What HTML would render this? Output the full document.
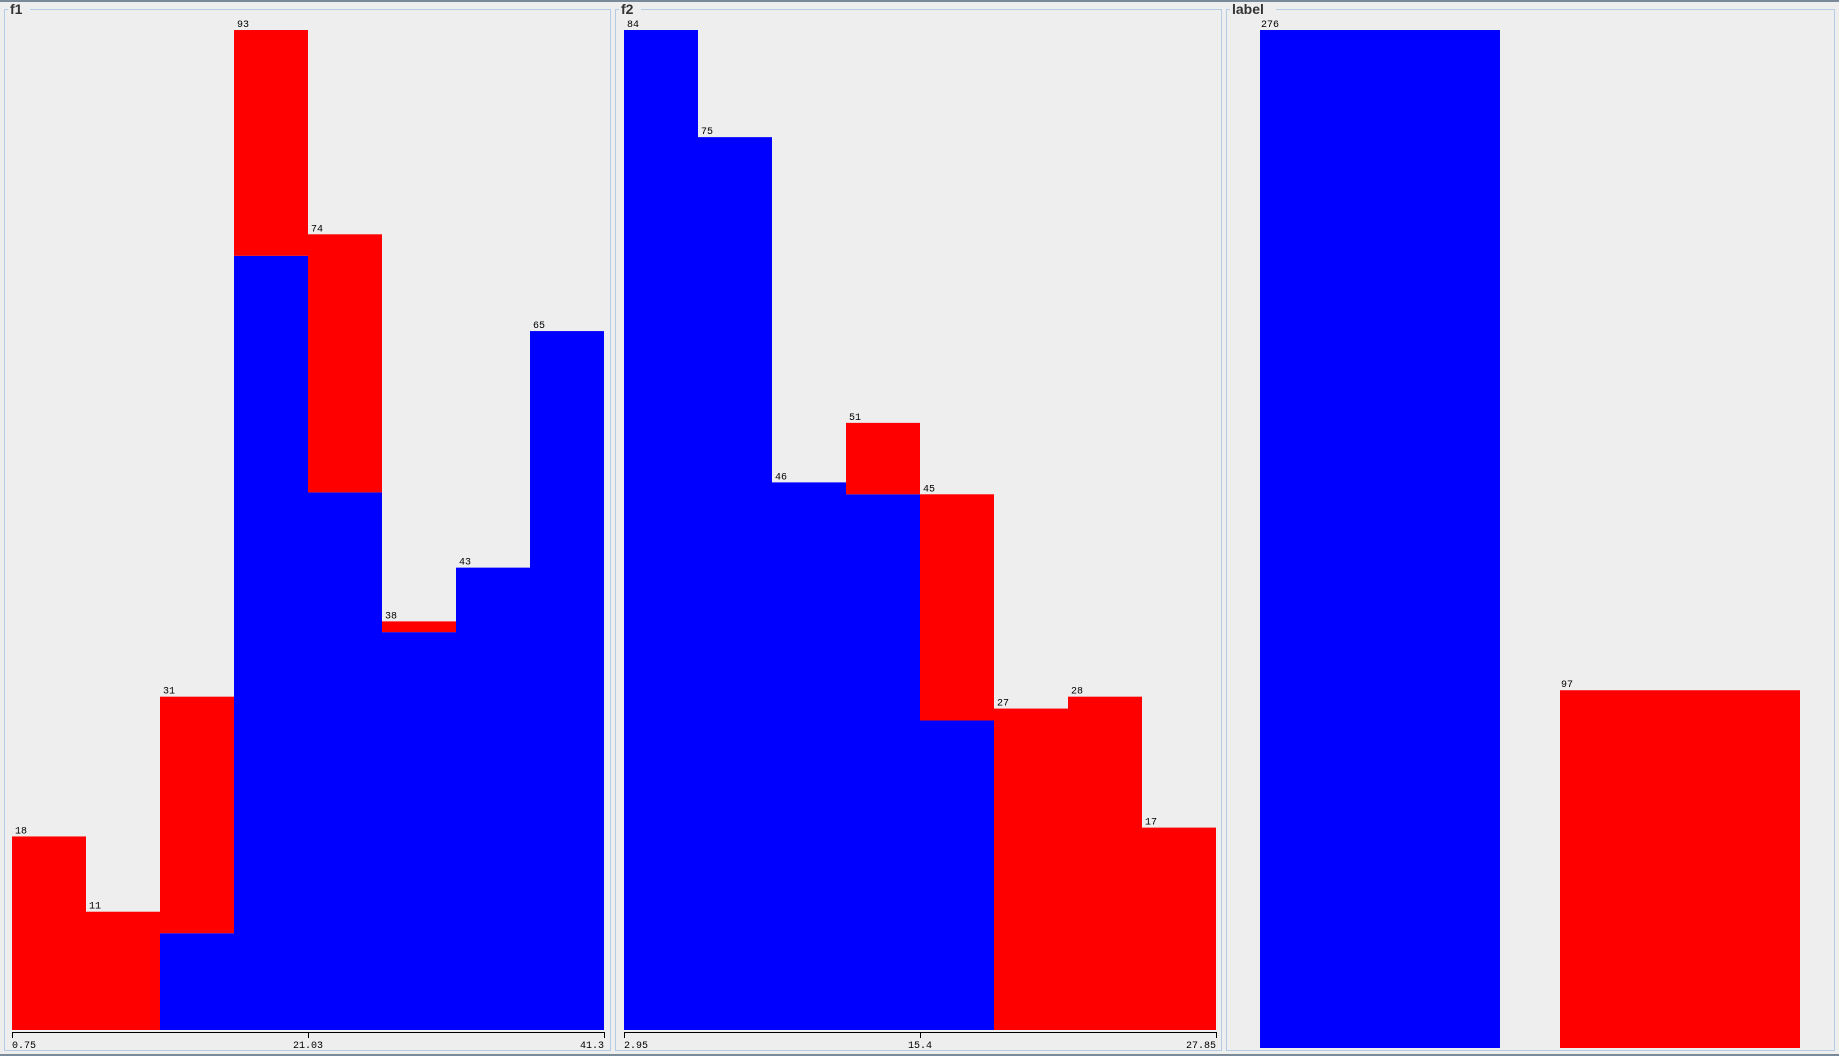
<!DOCTYPE html>
<html><head><meta charset="utf-8"><style>
html,body{margin:0;padding:0;background:#eeeeee;width:1839px;height:1056px;overflow:hidden}
svg{display:block}
text{font-family:"Liberation Mono","DejaVu Sans Mono",monospace}
text.ttl{font-family:"Liberation Sans","DejaVu Sans",sans-serif}
</style></head><body>
<svg id="c" width="1839" height="1056" xmlns="http://www.w3.org/2000/svg">
<rect x="0" y="0" width="1839" height="1056" fill="#eeeeee"/>
<line x1="0" y1="1" x2="1839" y2="1" stroke="#7a8a99" stroke-width="2"/>
<line x1="0" y1="1055" x2="1839" y2="1055" stroke="#7a8a99" stroke-width="2"/>
</svg>
<script>
const f1Totals=[18,11,31,93,74,38,43,65];
const f1Blue=[0,0,9,72,50,37,43,65];
const f1Ticks=["0.75","21.03","41.3"];
const f2Totals=[84,75,46,51,45,27,28,17];
const f2Blue=[84,75,46,45,26,0,0,0];
const f2Ticks=["2.95","15.4","27.85"];
const labelCats=["0","1"];
const labelCounts=[276,97];
const NS="http://www.w3.org/2000/svg";
const svg=document.getElementById('c');
function mk(t,a,p){const e=document.createElementNS(NS,t);for(const k in a)e.setAttribute(k,a[k]);(p||svg).appendChild(e);return e;}
function panel(x0,x1,title,name){
  const g=mk('g',{});
  
  
  mk('rect',{x:x0+0.5,y:9.5,width:x1-x0,height:1041,fill:'none',stroke:'#b4cce4','stroke-width':1},g);
  mk('rect',{x:x0+4,y:2,width:title.length*8+6,height:14,fill:'#eeeeee'},g);
  const t=mk('text',{x:x0+6,y:14,'font-size':14,'font-weight':'bold',fill:'#333','class':'ttl'},g);
  t.textContent=title;
  
  
  return g;
}
function hist(g,totals,blue,ticks,x0,x1,name){
  const base=1030,top=30,max=Math.max(...totals);
  const n=totals.length,w=(x1-x0)/n;
  const yS=v=>base-(v/max)*(base-top);
  totals.forEach((tot,i)=>{
    const x=x0+i*w,b=blue[i];
    if(b>0){const r=mk('rect',{x:x,y:yS(b),width:w,height:base-yS(b),fill:'#0000ff'},g);
      
      }
    if(tot>b){const r=mk('rect',{x:x,y:yS(tot),width:w,height:yS(b)-yS(tot),fill:'#ff0000'},g);
      
      }
    const t=mk('text',{x:x+3,y:yS(tot)-3,'font-size':10,fill:'#000'},g);t.textContent=tot;
    
    
  });
  mk('line',{x1:x0,y1:1032.5,x2:x1,y2:1032.5,stroke:'#000','stroke-width':1},g);
  ticks.forEach((tk,i)=>{
    const x=x0+i*(x1-x0)/(ticks.length-1);
    mk('line',{x1:x+0.5,y1:1032,x2:x+0.5,y2:1038,stroke:'#000'},g);
    const anchor=i==0?'start':(i==ticks.length-1?'end':'middle');
    const t=mk('text',{x:x,y:1048,'font-size':10,fill:'#000','text-anchor':anchor},g);t.textContent=tk;
    
    
  });
}
const g1=panel(4,610,'f1','f1-panel');
hist(g1,f1Totals,f1Blue,f1Ticks,12,604,'f1');
const g2=panel(615,1221,'f2','f2-panel');
hist(g2,f2Totals,f2Blue,f2Ticks,624,1216,'f2');
const g3=panel(1226,1834,'label','label-panel');
const lmax=Math.max(...labelCounts),lbase=1048,ltop=30;
const lx=[1260,1560],lw=240,lcol=['#0000ff','#ff0000'];
labelCats.forEach((c,i)=>{
  const y=lbase-(labelCounts[i]/lmax)*(lbase-ltop);
  const r=mk('rect',{x:lx[i],y:y,width:lw,height:lbase-y,fill:lcol[i]},g3);
  
  
  const t=mk('text',{x:lx[i]+1,y:y-3,'font-size':10,fill:'#000'},g3);t.textContent=labelCounts[i];
  
  
});
</script>
</body></html>
